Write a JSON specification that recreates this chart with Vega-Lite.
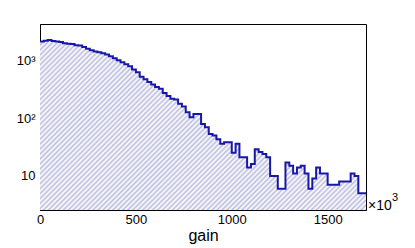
{
  "$schema": "https://vega.github.io/schema/vega-lite/v6.json",
  "width": 326,
  "height": 186,
  "autosize": {"type": "none"},
  "padding": {"left": 40, "top": 24, "right": 49, "bottom": 38},
  "background": "white",
  "config": {
    "font": "Liberation Sans",
    "view": {"stroke": "#000", "strokeWidth": 1},
    "axis": {"labelFont": "Liberation Sans", "titleFont": "Liberation Sans", "labelColor": "#000", "titleColor": "#000", "domainColor": "#000", "tickColor": "#000", "grid": false}
  },
  "data": {"values": [
    {"x": 0, "c": 2100}, {"x": 20, "c": 2180}, {"x": 40, "c": 2230}, {"x": 60, "c": 2140},
    {"x": 80, "c": 2100}, {"x": 100, "c": 2060}, {"x": 120, "c": 1975}, {"x": 140, "c": 1935},
    {"x": 160, "c": 1900}, {"x": 180, "c": 1820}, {"x": 200, "c": 1790}, {"x": 220, "c": 1685},
    {"x": 240, "c": 1585}, {"x": 260, "c": 1490}, {"x": 280, "c": 1420}, {"x": 300, "c": 1380},
    {"x": 320, "c": 1320}, {"x": 340, "c": 1250}, {"x": 360, "c": 1175}, {"x": 380, "c": 1083},
    {"x": 400, "c": 1000}, {"x": 420, "c": 923}, {"x": 440, "c": 852}, {"x": 460, "c": 786},
    {"x": 480, "c": 690}, {"x": 500, "c": 620}, {"x": 520, "c": 520}, {"x": 540, "c": 470},
    {"x": 560, "c": 420}, {"x": 580, "c": 380}, {"x": 600, "c": 345}, {"x": 620, "c": 322},
    {"x": 640, "c": 270}, {"x": 660, "c": 240}, {"x": 680, "c": 216}, {"x": 700, "c": 210},
    {"x": 720, "c": 177}, {"x": 740, "c": 158}, {"x": 760, "c": 126}, {"x": 780, "c": 103},
    {"x": 800, "c": 118}, {"x": 820, "c": 118}, {"x": 840, "c": 79}, {"x": 860, "c": 69},
    {"x": 880, "c": 53}, {"x": 900, "c": 50}, {"x": 920, "c": 43}, {"x": 940, "c": 36},
    {"x": 960, "c": 38}, {"x": 980, "c": 38}, {"x": 1000, "c": 25}, {"x": 1020, "c": 36},
    {"x": 1040, "c": 21}, {"x": 1060, "c": 21}, {"x": 1080, "c": 14}, {"x": 1100, "c": 16},
    {"x": 1120, "c": 29}, {"x": 1140, "c": 26}, {"x": 1160, "c": 24}, {"x": 1180, "c": 21},
    {"x": 1200, "c": 10}, {"x": 1220, "c": 10}, {"x": 1240, "c": 6}, {"x": 1260, "c": 6},
    {"x": 1280, "c": 17}, {"x": 1300, "c": 15}, {"x": 1320, "c": 11}, {"x": 1340, "c": 14},
    {"x": 1360, "c": 15}, {"x": 1380, "c": 11}, {"x": 1400, "c": 6}, {"x": 1420, "c": 9},
    {"x": 1440, "c": 14}, {"x": 1460, "c": 11}, {"x": 1480, "c": 11}, {"x": 1500, "c": 7},
    {"x": 1520, "c": 7}, {"x": 1540, "c": 7}, {"x": 1560, "c": 8}, {"x": 1580, "c": 8},
    {"x": 1600, "c": 8}, {"x": 1620, "c": 11}, {"x": 1640, "c": 10}, {"x": 1660, "c": 5},
    {"x": 1680, "c": 5}, {"x": 1700, "c": 5}
  ]},
  "resolve": {"axis": {"x": "independent", "y": "independent"}},
  "layer": [
    {
      "mark": {
        "type": "area",
        "interpolate": "step-after",
        "fill": {
          "gradient": "linear", "x1": 0, "y1": 0, "x2": 1.196, "y2": 0.624,
          "stops": [
            {"offset": 0, "color": "#bcbce0"}, {"offset": 0.005, "color": "#ffffff"},
            {"offset": 0.01, "color": "#bcbce0"}, {"offset": 0.015, "color": "#ffffff"},
            {"offset": 0.02, "color": "#bcbce0"}, {"offset": 0.025, "color": "#ffffff"},
            {"offset": 0.03, "color": "#bcbce0"}, {"offset": 0.035, "color": "#ffffff"},
            {"offset": 0.04, "color": "#bcbce0"}, {"offset": 0.045, "color": "#ffffff"},
            {"offset": 0.05, "color": "#bcbce0"}, {"offset": 0.055, "color": "#ffffff"},
            {"offset": 0.06, "color": "#bcbce0"}, {"offset": 0.065, "color": "#ffffff"},
            {"offset": 0.07, "color": "#bcbce0"}, {"offset": 0.075, "color": "#ffffff"},
            {"offset": 0.08, "color": "#bcbce0"}, {"offset": 0.085, "color": "#ffffff"},
            {"offset": 0.09, "color": "#bcbce0"}, {"offset": 0.095, "color": "#ffffff"},
            {"offset": 0.10, "color": "#bcbce0"}, {"offset": 0.105, "color": "#ffffff"},
            {"offset": 0.11, "color": "#bcbce0"}, {"offset": 0.115, "color": "#ffffff"},
            {"offset": 0.12, "color": "#bcbce0"}, {"offset": 0.125, "color": "#ffffff"},
            {"offset": 0.13, "color": "#bcbce0"}, {"offset": 0.135, "color": "#ffffff"},
            {"offset": 0.14, "color": "#bcbce0"}, {"offset": 0.145, "color": "#ffffff"},
            {"offset": 0.15, "color": "#bcbce0"}, {"offset": 0.155, "color": "#ffffff"},
            {"offset": 0.16, "color": "#bcbce0"}, {"offset": 0.165, "color": "#ffffff"},
            {"offset": 0.17, "color": "#bcbce0"}, {"offset": 0.175, "color": "#ffffff"},
            {"offset": 0.18, "color": "#bcbce0"}, {"offset": 0.185, "color": "#ffffff"},
            {"offset": 0.19, "color": "#bcbce0"}, {"offset": 0.195, "color": "#ffffff"},
            {"offset": 0.20, "color": "#bcbce0"}, {"offset": 0.205, "color": "#ffffff"},
            {"offset": 0.21, "color": "#bcbce0"}, {"offset": 0.215, "color": "#ffffff"},
            {"offset": 0.22, "color": "#bcbce0"}, {"offset": 0.225, "color": "#ffffff"},
            {"offset": 0.23, "color": "#bcbce0"}, {"offset": 0.235, "color": "#ffffff"},
            {"offset": 0.24, "color": "#bcbce0"}, {"offset": 0.245, "color": "#ffffff"},
            {"offset": 0.25, "color": "#bcbce0"}, {"offset": 0.255, "color": "#ffffff"},
            {"offset": 0.26, "color": "#bcbce0"}, {"offset": 0.265, "color": "#ffffff"},
            {"offset": 0.27, "color": "#bcbce0"}, {"offset": 0.275, "color": "#ffffff"},
            {"offset": 0.28, "color": "#bcbce0"}, {"offset": 0.285, "color": "#ffffff"},
            {"offset": 0.29, "color": "#bcbce0"}, {"offset": 0.295, "color": "#ffffff"},
            {"offset": 0.30, "color": "#bcbce0"}, {"offset": 0.305, "color": "#ffffff"},
            {"offset": 0.31, "color": "#bcbce0"}, {"offset": 0.315, "color": "#ffffff"},
            {"offset": 0.32, "color": "#bcbce0"}, {"offset": 0.325, "color": "#ffffff"},
            {"offset": 0.33, "color": "#bcbce0"}, {"offset": 0.335, "color": "#ffffff"},
            {"offset": 0.34, "color": "#bcbce0"}, {"offset": 0.345, "color": "#ffffff"},
            {"offset": 0.35, "color": "#bcbce0"}, {"offset": 0.355, "color": "#ffffff"},
            {"offset": 0.36, "color": "#bcbce0"}, {"offset": 0.365, "color": "#ffffff"},
            {"offset": 0.37, "color": "#bcbce0"}, {"offset": 0.375, "color": "#ffffff"},
            {"offset": 0.38, "color": "#bcbce0"}, {"offset": 0.385, "color": "#ffffff"},
            {"offset": 0.39, "color": "#bcbce0"}, {"offset": 0.395, "color": "#ffffff"},
            {"offset": 0.40, "color": "#bcbce0"}, {"offset": 0.405, "color": "#ffffff"},
            {"offset": 0.41, "color": "#bcbce0"}, {"offset": 0.415, "color": "#ffffff"},
            {"offset": 0.42, "color": "#bcbce0"}, {"offset": 0.425, "color": "#ffffff"},
            {"offset": 0.43, "color": "#bcbce0"}, {"offset": 0.435, "color": "#ffffff"},
            {"offset": 0.44, "color": "#bcbce0"}, {"offset": 0.445, "color": "#ffffff"},
            {"offset": 0.45, "color": "#bcbce0"}, {"offset": 0.455, "color": "#ffffff"},
            {"offset": 0.46, "color": "#bcbce0"}, {"offset": 0.465, "color": "#ffffff"},
            {"offset": 0.47, "color": "#bcbce0"}, {"offset": 0.475, "color": "#ffffff"},
            {"offset": 0.48, "color": "#bcbce0"}, {"offset": 0.485, "color": "#ffffff"},
            {"offset": 0.49, "color": "#bcbce0"}, {"offset": 0.495, "color": "#ffffff"},
            {"offset": 0.50, "color": "#bcbce0"}, {"offset": 0.505, "color": "#ffffff"},
            {"offset": 0.51, "color": "#bcbce0"}, {"offset": 0.515, "color": "#ffffff"},
            {"offset": 0.52, "color": "#bcbce0"}, {"offset": 0.525, "color": "#ffffff"},
            {"offset": 0.53, "color": "#bcbce0"}, {"offset": 0.535, "color": "#ffffff"},
            {"offset": 0.54, "color": "#bcbce0"}, {"offset": 0.545, "color": "#ffffff"},
            {"offset": 0.55, "color": "#bcbce0"}, {"offset": 0.555, "color": "#ffffff"},
            {"offset": 0.56, "color": "#bcbce0"}, {"offset": 0.565, "color": "#ffffff"},
            {"offset": 0.57, "color": "#bcbce0"}, {"offset": 0.575, "color": "#ffffff"},
            {"offset": 0.58, "color": "#bcbce0"}, {"offset": 0.585, "color": "#ffffff"},
            {"offset": 0.59, "color": "#bcbce0"}, {"offset": 0.595, "color": "#ffffff"},
            {"offset": 0.60, "color": "#bcbce0"}, {"offset": 0.605, "color": "#ffffff"},
            {"offset": 0.61, "color": "#bcbce0"}, {"offset": 0.615, "color": "#ffffff"},
            {"offset": 0.62, "color": "#bcbce0"}, {"offset": 0.625, "color": "#ffffff"},
            {"offset": 0.63, "color": "#bcbce0"}, {"offset": 0.635, "color": "#ffffff"},
            {"offset": 0.64, "color": "#bcbce0"}, {"offset": 0.645, "color": "#ffffff"},
            {"offset": 0.65, "color": "#bcbce0"}, {"offset": 0.655, "color": "#ffffff"},
            {"offset": 0.66, "color": "#bcbce0"}, {"offset": 0.665, "color": "#ffffff"},
            {"offset": 0.67, "color": "#bcbce0"}, {"offset": 0.675, "color": "#ffffff"},
            {"offset": 0.68, "color": "#bcbce0"}, {"offset": 0.685, "color": "#ffffff"},
            {"offset": 0.69, "color": "#bcbce0"}, {"offset": 0.695, "color": "#ffffff"},
            {"offset": 0.70, "color": "#bcbce0"}, {"offset": 0.705, "color": "#ffffff"},
            {"offset": 0.71, "color": "#bcbce0"}, {"offset": 0.715, "color": "#ffffff"},
            {"offset": 0.72, "color": "#bcbce0"}, {"offset": 0.725, "color": "#ffffff"},
            {"offset": 0.73, "color": "#bcbce0"}, {"offset": 0.735, "color": "#ffffff"},
            {"offset": 0.74, "color": "#bcbce0"}, {"offset": 0.745, "color": "#ffffff"},
            {"offset": 0.75, "color": "#bcbce0"}, {"offset": 0.755, "color": "#ffffff"},
            {"offset": 0.76, "color": "#bcbce0"}, {"offset": 0.765, "color": "#ffffff"},
            {"offset": 0.77, "color": "#bcbce0"}, {"offset": 0.775, "color": "#ffffff"},
            {"offset": 0.78, "color": "#bcbce0"}, {"offset": 0.785, "color": "#ffffff"},
            {"offset": 0.79, "color": "#bcbce0"}, {"offset": 0.795, "color": "#ffffff"},
            {"offset": 0.80, "color": "#bcbce0"}, {"offset": 0.805, "color": "#ffffff"},
            {"offset": 0.81, "color": "#bcbce0"}, {"offset": 0.815, "color": "#ffffff"},
            {"offset": 0.82, "color": "#bcbce0"}, {"offset": 0.825, "color": "#ffffff"},
            {"offset": 0.83, "color": "#bcbce0"}, {"offset": 0.835, "color": "#ffffff"},
            {"offset": 0.84, "color": "#bcbce0"}, {"offset": 0.845, "color": "#ffffff"},
            {"offset": 0.85, "color": "#bcbce0"}, {"offset": 0.855, "color": "#ffffff"},
            {"offset": 0.86, "color": "#bcbce0"}, {"offset": 0.865, "color": "#ffffff"},
            {"offset": 0.87, "color": "#bcbce0"}, {"offset": 0.875, "color": "#ffffff"},
            {"offset": 0.88, "color": "#bcbce0"}, {"offset": 0.885, "color": "#ffffff"},
            {"offset": 0.89, "color": "#bcbce0"}, {"offset": 0.895, "color": "#ffffff"},
            {"offset": 0.90, "color": "#bcbce0"}, {"offset": 0.905, "color": "#ffffff"},
            {"offset": 0.91, "color": "#bcbce0"}, {"offset": 0.915, "color": "#ffffff"},
            {"offset": 0.92, "color": "#bcbce0"}, {"offset": 0.925, "color": "#ffffff"},
            {"offset": 0.93, "color": "#bcbce0"}, {"offset": 0.935, "color": "#ffffff"},
            {"offset": 0.94, "color": "#bcbce0"}, {"offset": 0.945, "color": "#ffffff"},
            {"offset": 0.95, "color": "#bcbce0"}, {"offset": 0.955, "color": "#ffffff"},
            {"offset": 0.96, "color": "#bcbce0"}, {"offset": 0.965, "color": "#ffffff"},
            {"offset": 0.97, "color": "#bcbce0"}, {"offset": 0.975, "color": "#ffffff"},
            {"offset": 0.98, "color": "#bcbce0"}, {"offset": 0.985, "color": "#ffffff"},
            {"offset": 0.99, "color": "#bcbce0"}, {"offset": 0.995, "color": "#ffffff"},
            {"offset": 1, "color": "#bcbce0"}
          ]
        }
      },
      "encoding": {
        "x": {
          "field": "x", "type": "quantitative",
          "scale": {"domain": [0, 1700], "nice": false, "zero": false},
          "axis": {
            "orient": "bottom",
            "title": "gain", "titleFontSize": 16, "titleFontWeight": "normal", "titleY": 30, "titleBaseline": "alphabetic",
            "values": [0, 500, 1000, 1500],
            "format": "d",
            "labelFontSize": 13, "labelFlush": false, "labelOverlap": false,
            "tickSize": 0, "labelPadding": 3,
            "encode": {"ticks": {"update": {"y2": {"value": -8}}}}
          }
        },
        "y": {
          "field": "c", "type": "quantitative",
          "scale": {"type": "log", "domain": [2.57, 4230], "nice": false},
          "axis": {
            "orient": "left",
            "title": null,
            "values": [10, 100, 1000],
            "labelExpr": "datum.value == 10 ? '10' : datum.value == 100 ? '10²' : '10³'",
            "labelFontSize": 13, "labelOverlap": false, "labelFlush": false,
            "tickSize": 0, "labelPadding": 5,
            "encode": {"ticks": {"update": {"x2": {"value": 8}}}}
          }
        },
        "y2": {"datum": 2.57}
      }
    },
    {
      "mark": {"type": "line", "interpolate": "step-after", "color": "#1818a8", "strokeWidth": 2},
      "encoding": {
        "x": {
          "field": "x", "type": "quantitative",
          "axis": {
            "orient": "bottom", "title": null, "labels": false, "domain": false,
            "values": [100, 200, 300, 400, 600, 700, 800, 900, 1100, 1200, 1300, 1400, 1600, 1700],
            "tickSize": 0,
            "encode": {"ticks": {"update": {"y2": {"value": -4}}}}
          }
        },
        "y": {
          "field": "c", "type": "quantitative",
          "axis": {
            "orient": "left", "title": null, "labels": false, "domain": false,
            "values": [3, 4, 5, 6, 7, 8, 9, 20, 30, 40, 50, 60, 70, 80, 90, 200, 300, 400, 500, 600, 700, 800, 900, 2000, 3000, 4000],
            "tickSize": 0,
            "encode": {"ticks": {"update": {"x2": {"value": 4}}}}
          }
        }
      }
    },
    {
      "data": {"values": [{}]},
      "mark": {"type": "text", "text": "×10", "align": "left", "baseline": "alphabetic", "dx": 2, "fontSize": 14, "font": "Liberation Sans", "color": "#000"},
      "encoding": {
        "x": {"datum": 1700, "type": "quantitative", "axis": null},
        "y": {"datum": 2.57, "type": "quantitative", "axis": null}
      }
    },
    {
      "data": {"values": [{}]},
      "mark": {"type": "text", "text": "3", "align": "left", "baseline": "alphabetic", "dx": 26, "dy": -9, "fontSize": 11, "font": "Liberation Sans", "color": "#000"},
      "encoding": {
        "x": {"datum": 1700, "type": "quantitative", "axis": null},
        "y": {"datum": 2.57, "type": "quantitative", "axis": null}
      }
    }
  ]
}
